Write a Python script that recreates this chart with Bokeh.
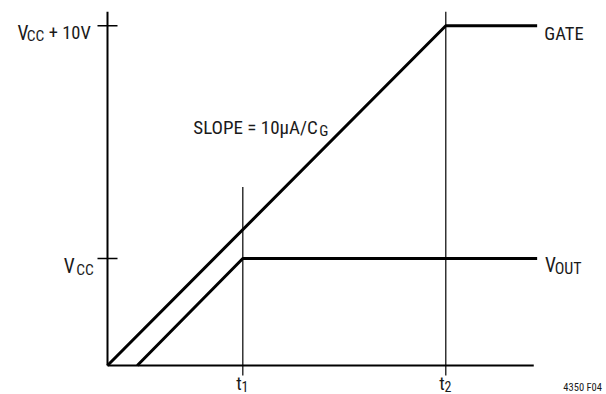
from bokeh.plotting import figure
from bokeh.models import Range1d
from bokeh.core.properties import value
from bokeh.embed import file_html
from bokeh.resources import INLINE

# ---- data (schematic timing diagram) ----
T1 = 4.0            # t1
T2 = 10.0           # t2
T_END = 12.7        # end of traces
VCC = 4.6           # VCC level
VGATE = 14.6        # VCC + 10V level

gate_t = [0.0, 10.0, 12.7]
gate_v = [0.0, 14.6, 14.6]
vout_t = [0.88, 4.0, 12.7]
vout_v = [0.0, 4.6, 4.6]

y_tick_values = [VCC, VGATE]
x_tick_values = [T1, T2]
x_tick_subs = ["1", "2"]

# ---- layout / scale ----
W, H = 606, 394
SX = 33.83   # px per time unit
SY = 23.27   # px per volt unit
OX, OY = 107, 365   # canvas position of the origin

x0 = -OX / SX
y1 = OY / SY
TXT = "#1a1a1a"
FONT = "Roboto Condensed"

p = figure(width=W, height=H, output_backend="svg", toolbar_location=None,
           x_range=Range1d(x0, x0 + W / SX), y_range=Range1d(y1 - H / SY, y1),
           min_border=0, outline_line_color=None, background_fill_color="white",
           border_fill_color="white")
p.xaxis.visible = False
p.yaxis.visible = False
p.xgrid.visible = False
p.ygrid.visible = False


def dx(px):
    return px / SX


def dy(px):
    return -px / SY   # px downward


AX_TOP = 15.2
AX_RIGHT = 12.6

# axes
p.segment(x0=[0], y0=[0], x1=[0], y1=[AX_TOP], line_color="black", line_width=2)
p.segment(x0=[0], y0=[0], x1=[AX_RIGHT], y1=[0], line_color="black", line_width=1.8)
# y ticks (crossing)
p.segment(x0=[dx(-10)] * 2, y0=y_tick_values, x1=[dx(10)] * 2, y1=y_tick_values,
          line_color="black", line_width=1.4)
# t1 / t2 marker lines
p.segment(x0=x_tick_values, y0=[dy(10)] * 2, x1=x_tick_values, y1=[7.67, AX_TOP],
          line_color="black", line_width=1.2)

# traces
p.line(gate_t, gate_v, line_color="black", line_width=3)
p.line(vout_t, vout_v, line_color="black", line_width=3)


def txt(x, y, s, size, align="left"):
    p.text(x=[x], y=[y], text=[s], text_font=value(FONT), text_font_size=f"{size}px",
           text_align=align, text_baseline="alphabetic", text_color=TXT)


# VCC + 10V
txt(dx(-90), VGATE + dy(7.7), "V", 19.5)
txt(dx(-80.8), VGATE + dy(10.2), "CC", 15.5)
txt(dx(-58.8), VGATE + dy(7.5), "+ 10V", 18.5)
# VCC
txt(dx(-43.7), VCC + dy(8.5), "V", 19.5)
txt(dx(-31.3), VCC + dy(11.5), "CC", 15.5)
# GATE
txt(T_END + dx(7.2), VGATE + dy(8), "GATE", 18.5)
# VOUT
txt(T_END + dx(7.8), VCC + dy(7.5), "V", 19.5)
txt(T_END + dx(17.5), VCC + dy(10.5), "OUT", 16)
# slope
txt(dx(85.8), dy(-237.7), "SLOPE = 10\u00b5A/C", 19)
txt(dx(211.8), dy(-234.3), "G", 15.5)
# t1, t2
for tv, sub in zip(x_tick_values, x_tick_subs):
    txt(tv + dx(-6.5), dy(18.5), "t", 18.5)
    txt(tv + dx(-1.2), dy(20.5), sub, 14)
# figure code
txt(AX_RIGHT + dx(29.6), dy(22), "4350 F04", 10.5)

open("out.html", "w").write(file_html(p, INLINE))
